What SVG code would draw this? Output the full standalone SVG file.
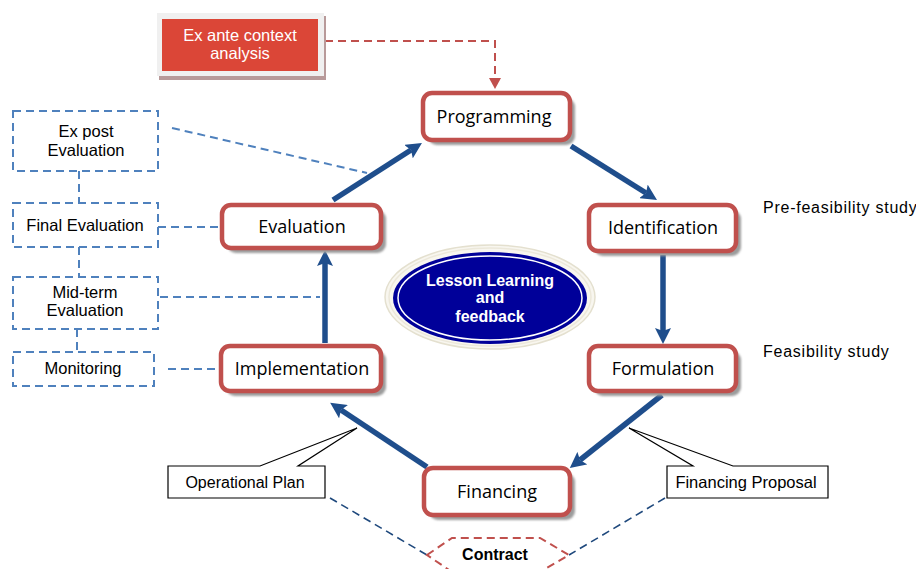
<svg xmlns="http://www.w3.org/2000/svg" width="916" height="569" viewBox="0 0 916 569">
<defs>
<style>
.node{fill:#fff;stroke:#c0504d;stroke-width:4.5}
.shadow{fill:#9b9b9b}
.nt{font-family:"Open Sans","Liberation Sans",sans-serif;font-size:18px;fill:#000;text-anchor:middle}
.lt{font-family:"Liberation Sans",Arial,sans-serif;font-size:16px;fill:#000;text-anchor:middle}
.bt{font-family:"Liberation Sans",Arial,sans-serif;font-size:16.5px;fill:#000;text-anchor:middle}
.side{font-family:"Liberation Sans",Arial,sans-serif;font-size:16px;fill:#000;letter-spacing:0.75px}
.dbox{fill:#fff;stroke:#4f81bd;stroke-width:2;stroke-dasharray:8 5}
.dl{fill:none;stroke:#4f81bd;stroke-width:2;stroke-dasharray:8 5}
.dd{fill:none;stroke:#1f497d;stroke-width:1.6;stroke-dasharray:8 5}
.arrow{fill:none;stroke:#1f4e8c;stroke-width:5.5;marker-end:url(#ah)}
.call{fill:#fff;stroke:#000;stroke-width:1.2}
</style>
<marker id="ah" markerUnits="userSpaceOnUse" markerWidth="18" markerHeight="16" refX="3" refY="8" orient="auto">
<path d="M0,0 L16,8 L0,16 L3,8 Z" fill="#1f4e8c"/>
</marker>
<marker id="rh" markerUnits="userSpaceOnUse" markerWidth="12" markerHeight="12" refX="1" refY="6" orient="auto">
<path d="M0,0 L11,6 L0,12 Z" fill="#c0504d"/>
</marker>
<filter id="blur" x="-10%" y="-20%" width="120%" height="140%"><feGaussianBlur stdDeviation="1.2"/></filter>
</defs>
<rect width="916" height="569" fill="#fff"/>

<g id="connectors">
<path class="arrow" d="M333,200 L411,150"/>
<path class="arrow" d="M571,146 L646,193"/>
<path class="arrow" d="M663,255 L663,331"/>
<path class="arrow" d="M662,395 L580,460"/>
<path class="arrow" d="M427,467 L341,410"/>
<path class="arrow" d="M325,343 L325,263"/>
<path d="M325,41 H495 V79" fill="none" stroke="#c0504d" stroke-width="2" stroke-dasharray="8 5" marker-end="url(#rh)"/>
<path class="dl" d="M172,128 L367,173"/>
<path class="dl" d="M158,227 L220,227"/>
<path class="dl" d="M160,297 L320,297"/>
<path class="dl" d="M168,369 L220,369"/>
<path class="dl" d="M79,171 V203"/>
<path class="dl" d="M79,247 V277"/>
<path class="dl" d="M77,329 V352"/>
<path class="dd" d="M330,498 L427,555"/>
<path class="dd" d="M665,498 L569,555"/>
</g>

<g id="exante">
<rect x="159" y="16" width="167" height="64" fill="#b89a9a"/>
<rect x="157" y="13" width="167" height="63" fill="#f0f0f0"/>
<rect x="162" y="19" width="156" height="52" fill="#db4637"/>
<text x="240" y="41" class="bt" style="fill:#fff">Ex ante context</text>
<text x="240" y="59" class="bt" style="fill:#fff">analysis</text>
</g>

<g id="programming">
<rect class="shadow" x="428" y="98" width="147" height="47" rx="9" filter="url(#blur)"/>
<rect class="node" x="423" y="93" width="147" height="47" rx="9"/>
<text class="nt" x="494" y="123">Programming</text>
</g>
<g id="identification">
<rect class="shadow" x="594" y="210" width="147" height="46" rx="9" filter="url(#blur)"/>
<rect class="node" x="589" y="205" width="147" height="46" rx="9"/>
<text class="nt" x="663" y="234">Identification</text>
</g>
<g id="formulation">
<rect class="shadow" x="594" y="351" width="147" height="45" rx="9" filter="url(#blur)"/>
<rect class="node" x="589" y="346" width="147" height="45" rx="9"/>
<text class="nt" x="663" y="375">Formulation</text>
</g>
<g id="financing">
<rect class="shadow" x="429" y="473" width="146" height="47" rx="9" filter="url(#blur)"/>
<rect class="node" x="424" y="468" width="146" height="47" rx="9"/>
<text class="nt" x="497" y="498">Financing</text>
</g>
<g id="implementation">
<rect class="shadow" x="226" y="351" width="160" height="45" rx="9" filter="url(#blur)"/>
<rect class="node" x="221" y="346" width="160" height="45" rx="9"/>
<text class="nt" x="302" y="375">Implementation</text>
</g>
<g id="evaluation">
<rect class="shadow" x="227" y="210" width="159" height="43" rx="9" filter="url(#blur)"/>
<rect class="node" x="222" y="205" width="159" height="43" rx="9"/>
<text class="nt" x="302" y="233">Evaluation</text>
</g>

<g id="lesson">
<ellipse cx="490" cy="297" rx="105" ry="52" fill="#f8f6ef" stroke="#e4e0cf" stroke-width="1.5"/>
<ellipse cx="490" cy="297" rx="101" ry="49" fill="none" stroke="#ece8da" stroke-width="1.5"/>
<ellipse cx="490" cy="298" rx="97" ry="46" fill="#000099"/>
<ellipse cx="490" cy="298" rx="92" ry="42" fill="none" stroke="#fff" stroke-width="1.5"/>
<text x="490" y="286" font-family="Liberation Sans, Arial, sans-serif" font-size="16" font-weight="bold" fill="#fff" text-anchor="middle">Lesson Learning</text>
<text x="490" y="303" font-family="Liberation Sans, Arial, sans-serif" font-size="16" font-weight="bold" fill="#fff" text-anchor="middle">and</text>
<text x="490" y="322" font-family="Liberation Sans, Arial, sans-serif" font-size="16" font-weight="bold" fill="#fff" text-anchor="middle">feedback</text>
</g>

<g id="expost">
<rect class="dbox" x="13" y="111" width="145" height="60"/>
<text class="bt" x="86" y="137">Ex post</text>
<text class="bt" x="86" y="156">Evaluation</text>
</g>
<g id="finaleval">
<rect class="dbox" x="13" y="203" width="145" height="44"/>
<text class="bt" x="85" y="231">Final Evaluation</text>
</g>
<g id="midterm">
<rect class="dbox" x="13" y="277" width="145" height="52"/>
<text class="bt" x="85" y="298">Mid-term</text>
<text class="bt" x="85" y="316">Evaluation</text>
</g>
<g id="monitoring">
<rect class="dbox" x="13" y="352" width="141" height="34"/>
<text class="bt" x="83" y="374">Monitoring</text>
</g>

<g id="operplan">
<path class="call" d="M168,466 H260 L357,428 L298,466 H325 V498 H168 Z"/>
<text class="lt" x="245" y="488">Operational Plan</text>
</g>
<g id="finprop">
<path class="call" d="M667,466 H693 L629,428 L733,466 H828 V498 H667 Z"/>
<text class="bt" x="746" y="488">Financing Proposal</text>
</g>

<g id="contract">
<path d="M427,555 L452,538 L540,538 L569,555 L540,572 L452,572 Z" fill="#fff" stroke="#c0504d" stroke-width="2" stroke-dasharray="8 5"/>
<text x="495" y="560" font-family="Liberation Sans, Arial, sans-serif" font-size="16" font-weight="bold" fill="#000" text-anchor="middle">Contract</text>
</g>

<g id="labels">
<text class="side" x="763" y="213">Pre-feasibility study</text>
<text class="side" x="763" y="357">Feasibility study</text>
</g>
</svg>
